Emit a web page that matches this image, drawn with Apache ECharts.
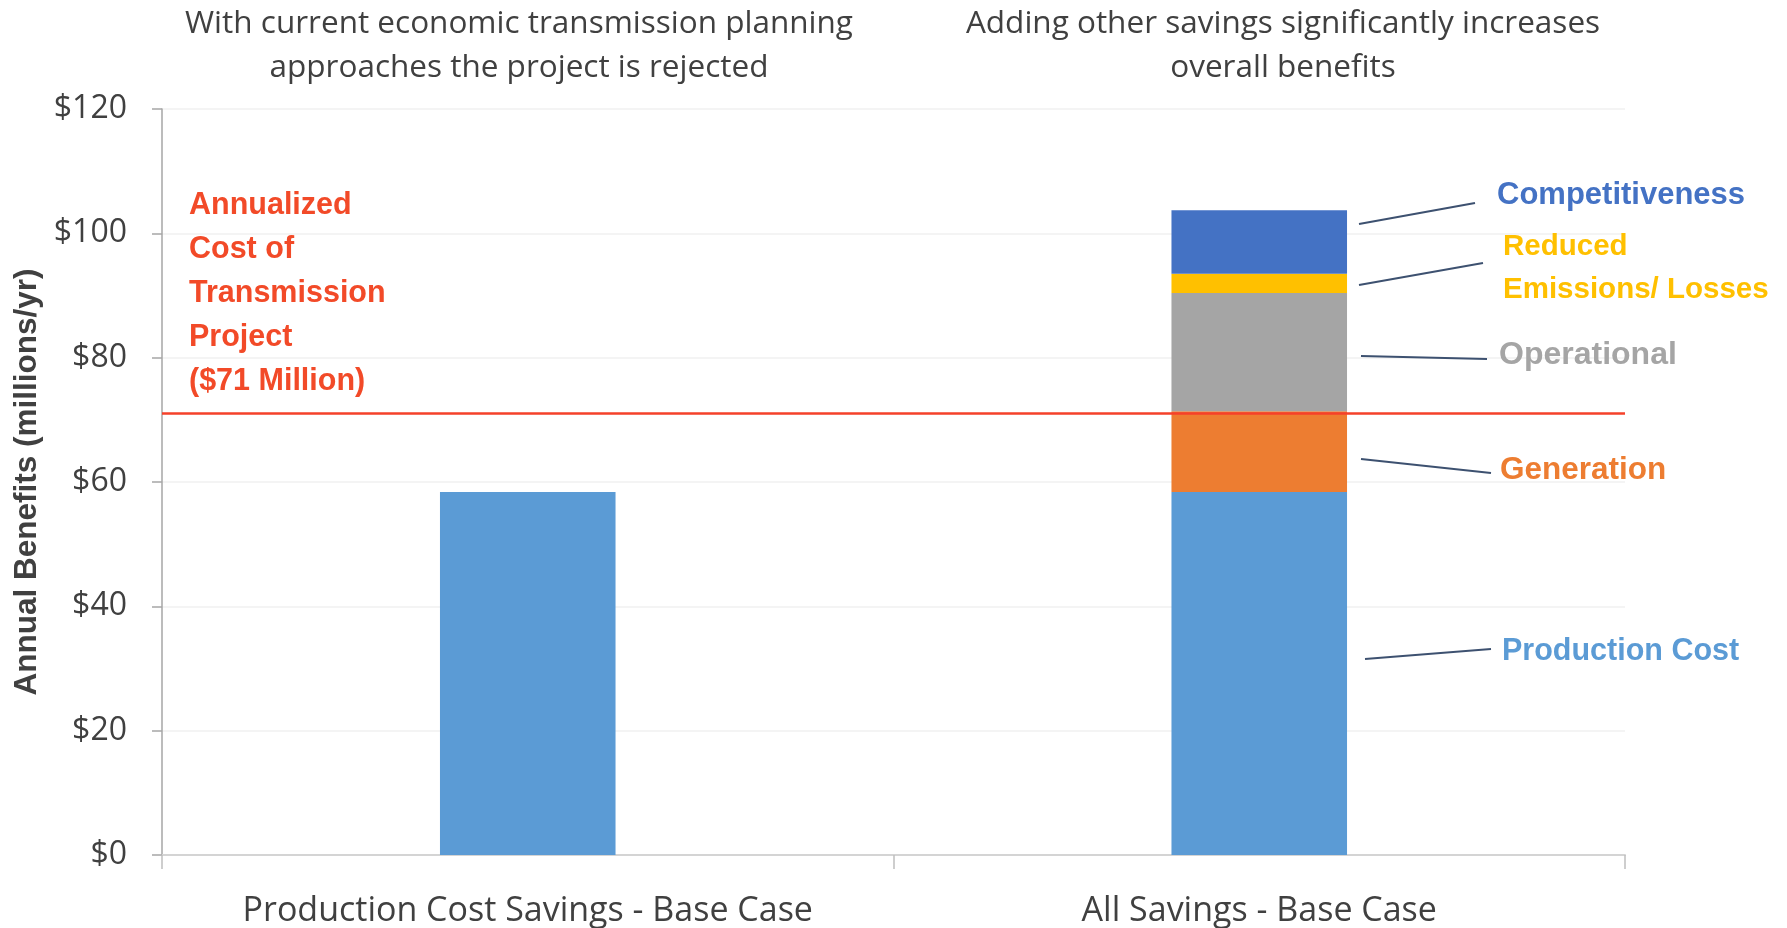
<!DOCTYPE html>
<html>
<head>
<meta charset="utf-8">
<script src="https://cdn.jsdelivr.net/npm/echarts@6/dist/echarts.min.js"></script>
<style>html,body{margin:0;padding:0;background:#fff}#c{width:1787px;height:928px}</style>
</head>
<body>
<div id="c"></div>
<script>
const categories = ['Production Cost Savings - Base Case', 'All Savings - Base Case'];
const productionCost = [58.4, 58.4];
const generation = ['-', 13.0];
const operational = ['-', 19.0];
const reducedEmissions = ['-', 3.1];
const competitiveness = ['-', 10.2];
const annualizedCost = 71;
const yTicks = { min: 0, max: 120, interval: 20 };
const panelTitles = [
  'With current economic transmission planning\napproaches the project is rejected',
  'Adding other savings significantly increases\noverall benefits'
];
const costNote = 'Annualized\nCost of\nTransmission\nProject\n($71 Million)';

const FONT = '"Open Sans", "Liberation Sans", sans-serif';
const BOLD = '"Liberation Sans", Arial, sans-serif';
const chart = echarts.init(document.getElementById('c'));

const leader = (x1, y1, x2, y2) => ({
  type: 'line', silent: true, z: 10,
  shape: { x1, y1, x2, y2 },
  style: { stroke: '#3D5170', lineWidth: 2 }
});
const label = (x, y, text, color, size) => ({
  type: 'text', silent: true, x, y, z: 10,
  style: { text, fill: color, font: 'bold ' + size + 'px ' + BOLD, verticalAlign: 'middle', lineHeight: 43 }
});

const seriesBase = { type: 'bar', stack: 'all', barWidth: '24%', barGap: '0%' };

chart.setOption({
  animation: false,
  backgroundColor: '#ffffff',
  grid: { left: 162, right: 162, top: 109, bottom: 72, containLabel: false },
  xAxis: {
    type: 'category', data: categories,
    axisLine: { show: true, lineStyle: { color: '#d4d4d4', width: 2 } },
    axisTick: { show: true, length: 14, lineStyle: { color: '#bfbfbf', width: 1.5 } },
    axisLabel: { interval: 0, hideOverlap: false, fontSize: 34, color: '#404040', fontFamily: FONT, margin: 39 }
  },
  yAxis: {
    type: 'value', min: yTicks.min, max: yTicks.max, interval: yTicks.interval,
    name: 'Annual Benefits (millions/yr)',
    nameLocation: 'middle', nameGap: 117, nameRotate: 90,
    nameTextStyle: { fontSize: 31.5, fontWeight: 'bold', color: '#404040', fontFamily: BOLD },
    axisLine: { show: true, lineStyle: { color: '#a6a6a6', width: 1.5 } },
    axisTick: { show: true, length: 10, lineStyle: { color: '#a6a6a6', width: 1.5 } },
    splitLine: { show: true, lineStyle: { color: '#f0f0f0', width: 1.5 } },
    axisLabel: { fontSize: 32, color: '#404040', fontFamily: FONT, margin: 35, formatter: v => '$' + v }
  },
  graphic: [
    { type: 'text', silent: true, x: 519, y: 2, style: { text: panelTitles[0], fill: '#404040', font: '31.5px ' + FONT, textAlign: 'center', lineHeight: 44 } },
    { type: 'text', silent: true, x: 1283, y: 2, style: { text: panelTitles[1], fill: '#404040', font: '31.5px ' + FONT, textAlign: 'center', lineHeight: 44 } },
    { type: 'text', silent: true, x: 189, y: 184, style: { text: costNote, fill: '#F24A28', font: 'bold 30.5px ' + BOLD, lineHeight: 44 } },
    leader(1359, 224, 1475, 203),
    leader(1359, 285, 1483, 263),
    leader(1361, 356, 1487, 359),
    leader(1361, 459, 1491, 473),
    leader(1365, 659, 1491, 649),
    label(1497, 195, 'Competitiveness', '#4472C4', 31),
    label(1503, 268, 'Reduced\nEmissions/ Losses', '#FFC000', 29.5),
    label(1499, 355, 'Operational', '#A5A5A5', 32),
    label(1500, 470, 'Generation', '#ED7D31', 31.5),
    label(1502, 652, 'Production Cost', '#5B9BD5', 30.5)
  ],
  series: [
    Object.assign({}, seriesBase, {
      name: 'Production Cost', data: productionCost, itemStyle: { color: '#5B9BD5' },
      markLine: {
        silent: true, symbol: ['none', 'none'], label: { show: false },
        lineStyle: { color: '#F5412A', width: 2.5, type: 'solid' },
        data: [{ yAxis: annualizedCost }]
      }
    }),
    Object.assign({}, seriesBase, { name: 'Generation', data: generation, itemStyle: { color: '#ED7D31' } }),
    Object.assign({}, seriesBase, { name: 'Operational', data: operational, itemStyle: { color: '#A5A5A5' } }),
    Object.assign({}, seriesBase, { name: 'Reduced Emissions/ Losses', data: reducedEmissions, itemStyle: { color: '#FFC000' } }),
    Object.assign({}, seriesBase, { name: 'Competitiveness', data: competitiveness, itemStyle: { color: '#4472C4' } })
  ]
});
</script>
</body>
</html>
